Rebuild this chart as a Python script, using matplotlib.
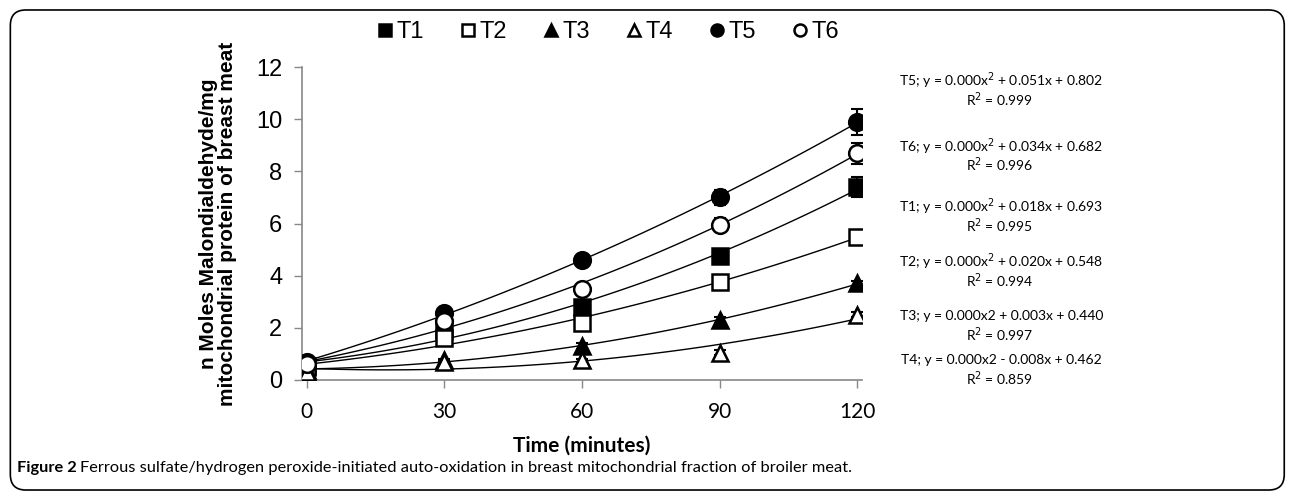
import matplotlib
matplotlib.use('Agg')
import matplotlib.pyplot as plt
import numpy as np
from matplotlib.patches import FancyBboxPatch

# data
time = [0, 30, 60, 90, 120]
series = ['T1', 'T2', 'T3', 'T4', 'T5', 'T6']
t1 = [0.55, 1.9, 2.8, 4.75, 7.4]
t2 = [0.5, 1.6, 2.2, 3.75, 5.5]
t3 = [0.4, 0.75, 1.3, 2.3, 3.7]
t4 = [0.3, 0.7, 0.75, 1.05, 2.5]
t5 = [0.7, 2.55, 4.6, 7.0, 9.9]
t6 = [0.6, 2.25, 3.5, 5.95, 8.7]
err1 = [0.1, 0.1, 0.15, 0.2, 0.4]
err2 = [0.05, 0.1, 0.1, 0.1, 0.1]
err3 = [0.05, 0.05, 0.1, 0.1, 0.1]
err4 = [0.05, 0.05, 0.05, 0.1, 0.1]
err5 = [0.1, 0.15, 0.2, 0.3, 0.5]
err6 = [0.1, 0.15, 0.15, 0.25, 0.4]

equations = {
    'T5': ('T5; y = 0.000x$^2$ + 0.051x + 0.802', 'R$^2$ = 0.999'),
    'T6': ('T6; y = 0.000x$^2$ + 0.034x + 0.682', 'R$^2$ = 0.996'),
    'T1': ('T1; y = 0.000x$^2$ + 0.018x + 0.693', 'R$^2$ = 0.995'),
    'T2': ('T2; y = 0.000x$^2$ + 0.020x + 0.548', 'R$^2$ = 0.994'),
    'T3': ('T3; y = 0.000x2 + 0.003x + 0.440', 'R$^2$ = 0.997'),
    'T4': ('T4; y = 0.000x2 - 0.008x + 0.462', 'R$^2$ = 0.859'),
}
eq_order = ['T5', 'T6', 'T1', 'T2', 'T3', 'T4']
eq_ypos = [0.838, 0.707, 0.585, 0.475, 0.367, 0.279]

values = {'T1': t1, 'T2': t2, 'T3': t3, 'T4': t4, 'T5': t5, 'T6': t6}
errors = {'T1': err1, 'T2': err2, 'T3': err3, 'T4': err4, 'T5': err5, 'T6': err6}
styles = {
    'T1': dict(marker='s', mfc='black'),
    'T2': dict(marker='s', mfc='white'),
    'T3': dict(marker='^', mfc='black'),
    'T4': dict(marker='^', mfc='white'),
    'T5': dict(marker='o', mfc='black'),
    'T6': dict(marker='o', mfc='white'),
}

fig = plt.figure(figsize=(12.92, 4.99), dpi=100)
ax = fig.add_axes([0.2337, 0.2385, 0.4334, 0.6272])

xs = np.linspace(0, 120, 100)
for s in series:
    y = values[s]
    # 2nd order trend line as in the excel chart
    coef = np.polyfit(time, y, 2)
    ax.plot(xs, np.polyval(coef, xs), color='black', lw=1.0, zorder=2)
    ax.errorbar(time, y, yerr=errors[s], fmt='none', ecolor='black',
                elinewidth=1.5, capsize=4, capthick=1.5, zorder=3)
    ax.plot(time, y, ls='none', marker=styles[s]['marker'], mfc=styles[s]['mfc'],
            mec='black', mew=1.8, ms=12, zorder=4, label=s)

ax.set_xlim(-1, 121)
ax.set_ylim(0, 12)
ax.set_xticks(time)
ax.set_yticks([0, 2, 4, 6, 8, 10, 12])
for sp in ['top', 'right']:
    ax.spines[sp].set_visible(False)
for sp in ['left', 'bottom']:
    ax.spines[sp].set_color('#888888')
    ax.spines[sp].set_linewidth(1.2)
ax.tick_params(axis='both', color='#888888', length=6, width=1)
ax.tick_params(axis='y', labelsize=17, pad=8)
ax.tick_params(axis='x', labelsize=15, pad=10)
for lab in ax.get_yticklabels():
    lab.set_family('Liberation Sans')
for lab in ax.get_xticklabels():
    lab.set_family('Lato')

ax.set_xlabel('Time (minutes)', fontsize=15, fontweight='bold',
              family='Lato', labelpad=10)
ax.set_ylabel('n Moles Malondialdehyde/mg\nmitochondrial protein of breast meat',
              fontsize=15, fontweight='bold', family='Liberation Sans',
              labelpad=14, linespacing=1.0)

handles, labels = ax.get_legend_handles_labels()
leg = fig.legend(handles, labels, loc='center', bbox_to_anchor=(0.469, 0.935),
                 ncol=6, frameon=False, markerscale=0.72,
                 handletextpad=0.0, columnspacing=1.35, handlelength=1.0,
                 prop={'family': 'Liberation Sans', 'size': 17})

for s, yp in zip(eq_order, eq_ypos):
    eq, r2 = equations[s]
    fig.text(0.775, yp, eq, ha='center', va='center', fontsize=10,
             family='Lato', color='black')
    fig.text(0.774, yp - 0.038, r2, ha='center', va='center', fontsize=10,
             family='Lato', color='black')

cap1 = fig.text(0.013, 0.063, 'Figure 2', fontsize=11.8, ha='left', va='center',
                family='Lato', fontweight='bold')
fig.canvas.draw()
bb = cap1.get_window_extent().transformed(fig.transFigure.inverted())
fig.text(bb.x1 + 0.003, 0.063, 'Ferrous sulfate/hydrogen peroxide-initiated auto-oxidation in '
         'breast mitochondrial fraction of broiler meat.', fontsize=11.8, ha='left',
         va='center', family='Lato', color='black')

frame = FancyBboxPatch((0.008, 0.018), 0.986, 0.962, transform=fig.transFigure,
                       boxstyle='round,pad=0,rounding_size=0.012',
                       fill=False, ec='black', lw=1.2, mutation_aspect=2.6)
fig.patches.append(frame)

fig.savefig('out.png', dpi=100)
